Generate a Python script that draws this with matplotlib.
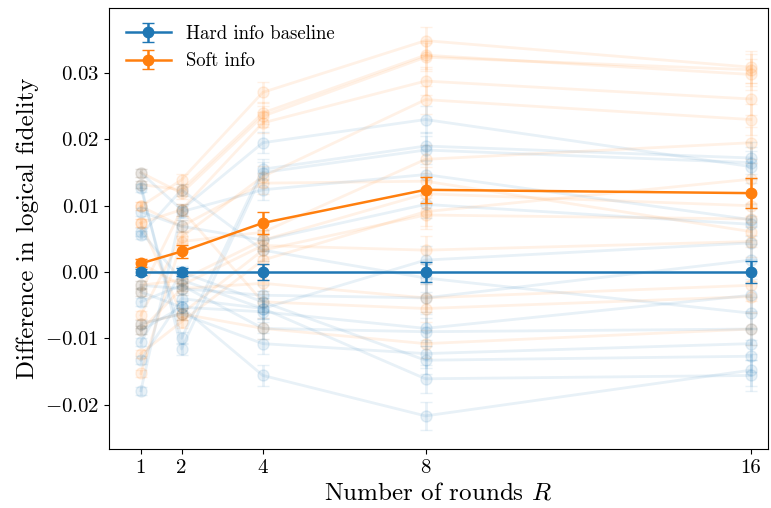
import matplotlib

matplotlib.use("Agg")

import matplotlib.pyplot as plt
from matplotlib.ticker import MultipleLocator
import numpy as np

plt.rcParams["font.family"] = "cmr10"
plt.rcParams["mathtext.fontset"] = "cm"
plt.rcParams["axes.formatter.use_mathtext"] = True

ROUNDS = [1, 2, 4, 8, 16]

# main curves (mean difference vs. hard-info baseline)
HARD_MEAN = [0.0, 0.0, 0.0, 0.0, 0.0]
HARD_ERR = [0.0004, 0.0006, 0.0012, 0.0015, 0.0016]
SOFT_MEAN = [0.0013, 0.0031, 0.0074, 0.0124, 0.0119]
SOFT_ERR = [0.0006, 0.0010, 0.0016, 0.0020, 0.0023]

# individual configurations, hard info
HARD_LINES = [
    [0.0150, 0.0094, 0.0195, 0.0230, 0.0159],
    [0.0127, -0.0100, 0.0155, 0.0190, 0.0172],
    [0.0132, -0.0116, 0.0150, 0.0184, 0.0165],
    [-0.0179, 0.0091, 0.0124, 0.0147, 0.0079],
    [0.0091, 0.0069, 0.0048, 0.0102, 0.0072],
    [0.0061, -0.0012, -0.0055, 0.0018, 0.0044],
    [0.0056, 0.0124, 0.0033, -0.0009, -0.0062],
    [-0.0020, -0.0025, -0.0035, -0.0039, 0.0018],
    [-0.0030, -0.0053, -0.0060, -0.0085, -0.0035],
    [-0.0045, -0.0020, -0.0085, -0.0090, -0.0086],
    [-0.0078, -0.0063, -0.0108, -0.0123, -0.0108],
    [-0.0106, 0.0000, -0.0045, -0.0133, -0.0127],
    [-0.0133, -0.0040, -0.0055, -0.0161, -0.0156],
    [-0.0088, -0.0053, -0.0156, -0.0217, -0.0148],
]

# individual configurations, soft info
SOFT_LINES = [
    [0.0099, 0.0139, 0.0271, 0.0349, 0.0309],
    [0.0132, 0.0124, 0.0240, 0.0327, 0.0298],
    [0.0150, 0.0119, 0.0235, 0.0324, 0.0305],
    [0.0074, 0.0094, 0.0225, 0.0288, 0.0261],
    [-0.0065, 0.0053, 0.0144, 0.0260, 0.0230],
    [-0.0153, 0.0046, 0.0060, 0.0170, 0.0195],
    [0.0099, 0.0069, 0.0134, 0.0137, 0.0061],
    [-0.0123, -0.0075, 0.0018, 0.0091, 0.0140],
    [-0.0078, -0.0063, 0.0033, 0.0086, 0.0080],
    [-0.0020, -0.0012, 0.0048, 0.0118, 0.0100],
    [0.0013, -0.0020, 0.0040, 0.0033, 0.0046],
    [-0.0088, -0.0025, -0.0017, -0.0039, -0.0020],
    [-0.0030, 0.0094, -0.0045, -0.0055, -0.0037],
    [0.0074, -0.0063, -0.0085, -0.0108, -0.0086],
]
LINE_ERR = [0.0006, 0.0009, 0.0016, 0.0021, 0.0024]

fig = plt.figure(figsize=(7.71, 5.08), dpi=100)
ax = fig.add_axes([0.141, 0.116, 0.855, 0.868])

faint = dict(marker="o", markersize=8, linewidth=2, capsize=4, alpha=0.1)
for values in SOFT_LINES:
    ax.errorbar(ROUNDS, values, yerr=LINE_ERR, color="C1", zorder=1, **faint)
for values in HARD_LINES:
    ax.errorbar(ROUNDS, values, yerr=LINE_ERR, color="C0", zorder=1, **faint)

main = dict(marker="o", markersize=7.5, linewidth=1.8, capsize=4)
soft = ax.errorbar(ROUNDS, SOFT_MEAN, yerr=SOFT_ERR, color="C1", zorder=3,
                   label="Soft info", **main)
hard = ax.errorbar(ROUNDS, HARD_MEAN, yerr=HARD_ERR, color="C0", zorder=4,
                   label="Hard info baseline", **main)

ax.set_xticks(ROUNDS)
ax.set_xticklabels([str(r) for r in ROUNDS])
ax.yaxis.set_major_locator(MultipleLocator(0.01))
ax.set_xlim(0.21, 16.42)
ax.set_ylim(-0.0267, 0.0398)
ax.tick_params(labelsize=15)
ax.set_xlabel("Number of rounds $R$", fontsize=18)
ax.set_ylabel("Difference in logical fidelity", fontsize=18)
ax.legend(handles=[hard, soft], loc="upper left", frameon=False, fontsize=13.5,
          handlelength=2.4)

fig.savefig("out.png", dpi=100)
